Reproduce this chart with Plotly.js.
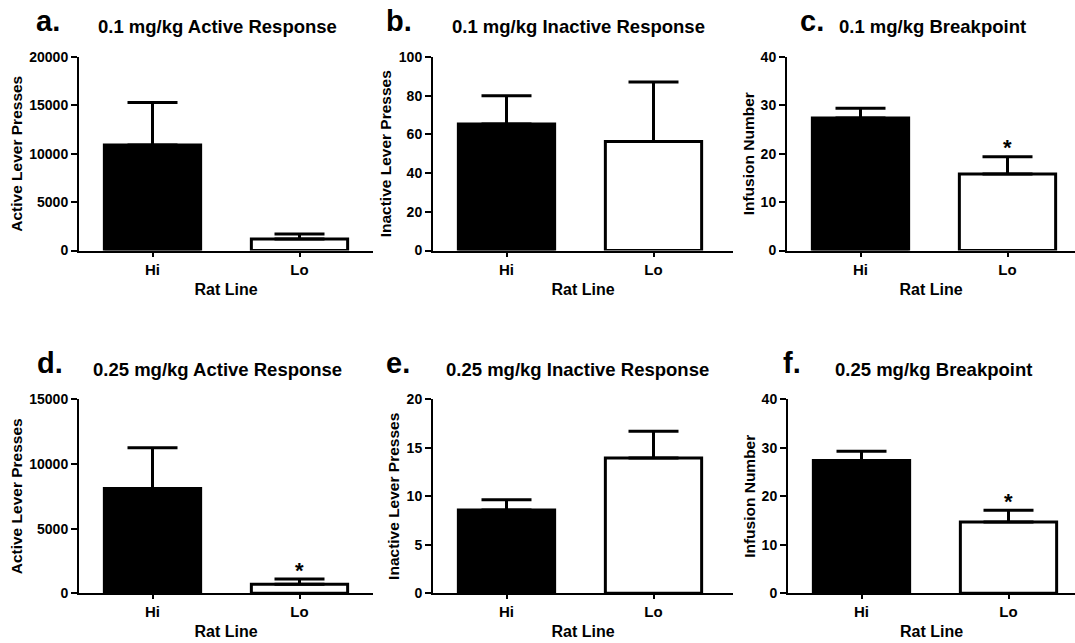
<!DOCTYPE html>
<html>
<head>
<meta charset="utf-8">
<script src="https://cdn.plot.ly/plotly-3.0.1.min.js"></script>
<style>
html,body{margin:0;padding:0;background:#fff;}
#chart{width:1075px;height:643px;}
</style>
</head>
<body>
<div id="chart"></div>
<script>
// ---- data ----
var categories = ['Hi', 'Lo'];

var active01 = [10900, 1200];
var active01Err = [4400, 500];

var inactive01 = [65.4, 56.3];
var inactive01Err = [14.6, 30.8];

var breakpoint01 = [27.4, 15.8];
var breakpoint01Err = [2.0, 3.6];

var active025 = [8100, 700];
var active025Err = [3150, 400];

var inactive025 = [8.6, 13.95];
var inactive025Err = [1.05, 2.75];

var breakpoint025 = [27.4, 14.7];
var breakpoint025Err = [1.9, 2.4];

var panelLetters = ['a.', 'b.', 'c.', 'd.', 'e.', 'f.'];
var panelTitles = ['0.1 mg/kg Active Response', '0.1 mg/kg Inactive Response', '0.1 mg/kg Breakpoint',
                   '0.25 mg/kg Active Response', '0.25 mg/kg Inactive Response', '0.25 mg/kg Breakpoint'];
var yTitles = ['Active Lever Presses', 'Inactive Lever Presses', 'Infusion Number',
               'Active Lever Presses', 'Inactive Lever Presses', 'Infusion Number'];
var xTitle = 'Rat Line';
var yMax = [20000, 100, 40, 15000, 20, 40];
var yDtick = [5000, 20, 10, 5000, 5, 10];
var significant = [false, false, true, true, false, true];

// ---- layout geometry (pixels) ----
var W = 1075, H = 643;
function px(x) { return x / W; }
function py(y) { return (H - y) / H; }

var FONT = 'Liberation Sans, Arial, Helvetica, sans-serif';
var values = [active01, inactive01, breakpoint01, active025, inactive025, breakpoint025];
var errors = [active01Err, inactive01Err, breakpoint01Err, active025Err, inactive025Err, breakpoint025Err];

// per-panel x pixel extents and category scale
var xLeft = [79, 433, 787, 79, 433, 788];
var xRight = [373, 733, 1075, 373, 733, 1075];
var pxPerUnit = 147;
var rowTop = [57, 57, 57, 399.3, 399.3, 399.3];
var rowBottom = [250.5, 250.5, 250.5, 593.3, 593.3, 593.3];
var titleCx = [217.5, 578, 932.5, 217, 577.5, 933];
var letterX = [36, 386, 800, 37, 386, 783];
var yTitleStandoff = [3, 3, 2, 3, 3, 2];

var traces = [];
var layout = {
  width: W, height: H,
  margin: {l: 0, r: 0, t: 0, b: 0},
  paper_bgcolor: '#ffffff',
  plot_bgcolor: 'rgba(0,0,0,0)',
  showlegend: false,
  font: {family: FONT, color: '#000', weight: 'bold'},
  annotations: []
};

for (var i = 0; i < 6; i++) {
  var n = i + 1;
  var xa = n === 1 ? 'x' : 'x' + n;
  var ya = n === 1 ? 'y' : 'y' + n;
  traces.push({
    type: 'bar',
    x: categories,
    y: values[i],
    xaxis: xa, yaxis: ya,
    width: 0.655,
    marker: {color: ['#000000', '#ffffff'], line: {color: '#000000', width: 3}},
    error_y: {type: 'data', symmetric: false, array: errors[i], arrayminus: [0, 0],
              color: '#000000', thickness: 3, width: 25},
    hoverinfo: 'skip'
  });
  var rangeMax = -0.5 + (xRight[i] - xLeft[i]) / pxPerUnit;
  layout['xaxis' + (n === 1 ? '' : n)] = {
    domain: [px(xLeft[i]), px(xRight[i])],
    anchor: ya,
    type: 'category',
    range: [-0.5, rangeMax],
    showline: true, linecolor: '#000', linewidth: 2,
    ticks: 'outside', ticklen: 4, tickwidth: 2, tickcolor: '#000',
    showgrid: false, zeroline: false,
    tickfont: {family: FONT, size: 15, color: '#000', weight: 'bold'},
    title: {text: xTitle, font: {family: FONT, size: 16, color: '#000', weight: 'bold'}, standoff: 7},
    fixedrange: true
  };
  layout['yaxis' + (n === 1 ? '' : n)] = {
    domain: [py(rowBottom[i]), py(rowTop[i])],
    anchor: xa,
    range: [0, yMax[i]],
    tick0: 0, dtick: yDtick[i],
    exponentformat: 'none', separatethousands: false, tickformat: 'd',
    showline: true, linecolor: '#000', linewidth: 2,
    ticks: 'outside', ticklen: 6, tickwidth: 2, tickcolor: '#000',
    showgrid: false, zeroline: false,
    tickfont: {family: FONT, size: 14, color: '#000', weight: 'bold'},
    title: {text: yTitles[i], font: {family: FONT, size: 15.5, color: '#000', weight: 'bold'}, standoff: yTitleStandoff[i]},
    fixedrange: true
  };
  // panel letter
  layout.annotations.push({
    xref: 'paper', yref: 'paper', x: px(letterX[i] - 2), y: py(rowTop[i] - 36),
    xanchor: 'left', yanchor: 'middle', showarrow: false,
    text: panelLetters[i], font: {family: FONT, size: 29, color: '#000', weight: 'bold'}
  });
  // panel title
  layout.annotations.push({
    xref: 'paper', yref: 'paper', x: px(titleCx[i]), y: py(rowTop[i] - 30),
    xanchor: 'center', yanchor: 'middle', showarrow: false,
    text: panelTitles[i], font: {family: FONT, size: 18.5, color: '#000', weight: 'bold'}
  });
  if (significant[i]) {
    layout.annotations.push({
      xref: xa, yref: ya, x: categories[1], y: values[i][1] + errors[i][1],
      xanchor: 'center', yanchor: 'middle', yshift: 9, showarrow: false,
      text: '*', font: {family: FONT, size: 22, color: '#000', weight: 'bold'}
    });
  }
}

Plotly.newPlot('chart', traces, layout, {displayModeBar: false, staticPlot: true});
</script>
</body>
</html>
